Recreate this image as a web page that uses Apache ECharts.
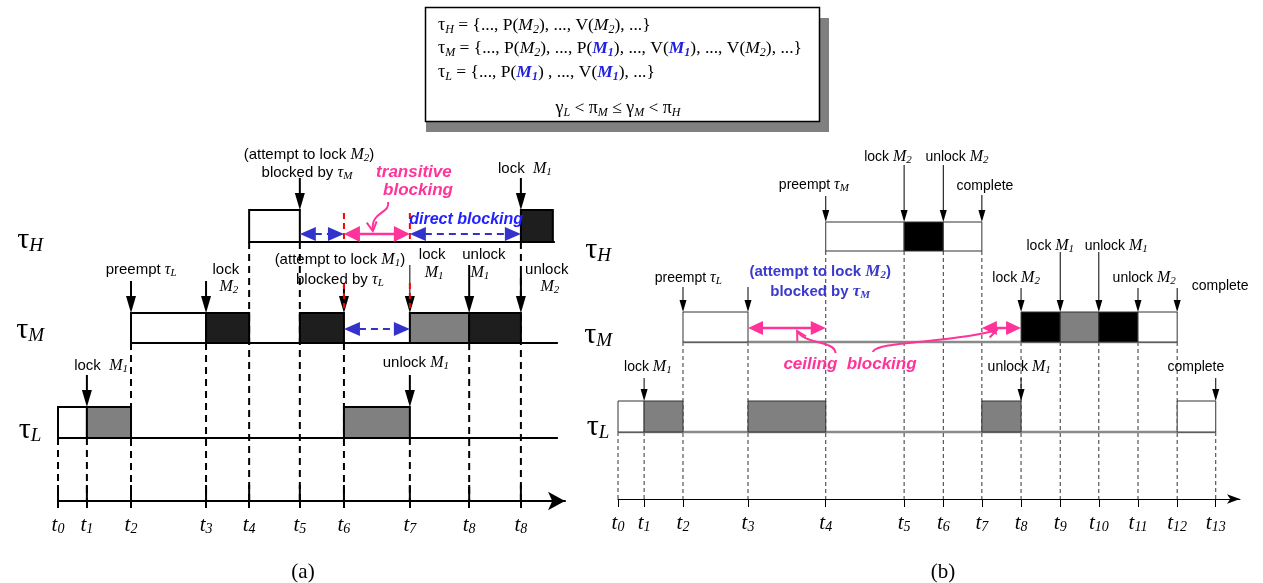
<!DOCTYPE html>
<html><head><meta charset="utf-8">
<script src="https://cdn.jsdelivr.net/npm/echarts@6/dist/echarts.min.js"></script>
<style>html,body{margin:0;padding:0;background:#fff}#main{width:1263px;height:583px}</style>
</head><body><div id="main"></div>
<script>
// ---------------- data (time units along each time axis, levels along the vertical scale) ----------------
const timesA = [0, 5.7, 14.4, 29.2, 37.7, 47.7, 56.4, 69.4, 81.1, 91.3];
const tickLabelsA = ['0', '1', '2', '3', '4', '5', '6', '7', '8', '8'];
const timesB = [0, 4.2, 10.45, 20.9, 33.4, 46.0, 52.3, 58.5, 64.8, 71.1, 77.3, 83.6, 89.9, 96.1];
const tickLabelsB = ['0', '1', '2', '3', '4', '5', '6', '7', '8', '9', '10', '11', '12', '13'];

// rows: [baseline level, top-of-execution-box level]
const rowsA = { H: [25.9, 29.1], M: [15.8, 18.8], L: [6.3, 9.4] };
const rowsB = { H: [24.8, 27.7], M: [15.7, 18.7], L: [6.7, 9.8] };

// execution segments: [row, start tick, end tick, kind] kind 0 = normal, 1 = holds M1, 2 = holds M2
const segmentsA = [['L', 0, 1, 0], ['L', 1, 2, 1], ['L', 6, 7, 1], ['M', 2, 3, 0], ['M', 3, 4, 2], ['M', 5, 6, 2],
  ['M', 7, 8, 1], ['M', 8, 9, 2], ['H', 4, 5, 0], ['H', 9, -1, 2]];
const runEndA = 97.6;
const segmentsB = [['L', 0, 1, 0], ['L', 1, 2, 1], ['L', 3, 4, 1], ['L', 7, 8, 1], ['L', 12, 13, 0],
  ['M', 2, 3, 0], ['M', 8, 9, 2], ['M', 9, 10, 1], ['M', 10, 11, 2], ['M', 11, 12, 0],
  ['H', 4, 5, 0], ['H', 5, 6, 2], ['H', 6, 7, 0]];

// timeline baselines: [row, start tick, end value]
const baselinesA = [['H', 4, 98.0], ['M', 2, 98.6], ['L', 0, 98.6]];
const baselinesB = [['M', 2, 89.9], ['L', 0, 96.1]];

// dashed guide lines: [tick, row it hangs from]
const guidesA = [[0, 'L'], [1, 'L'], [2, 'M'], [3, 'M'], [4, 'H'], [5, 'H'], [6, 'M'], [7, 'L'], [8, 'M'], [9, 'H']];
const guidesB = [[0, 'L'], [1, 'L'], [2, 'M'], [3, 'M'], [4, 'H'], [5, 'H'], [6, 'H'], [7, 'H'], [8, 'M'],
  [9, 'M'], [10, 'M'], [11, 'M'], [12, 'M'], [13, 'L']];

// event arrows: [tick, start level, row]
const eventsA = [[5, 32.3, 'H'], [9, 32.3, 'H'], [2, 22.0, 'M'], [3, 22.0, 'M'], [6, 21.8, 'M'],
  [8, 23.6, 'M'], [9, 22.8, 'M'], [1, 12.6, 'L'], [7, 12.6, 'L']];
const thinEventsA = [[7, 23.6, 'M']];
const eventsB = [[4, 30.3, 'H'], [5, 33.4, 'H'], [6, 33.4, 'H'], [7, 30.4, 'H'], [2, 21.2, 'M'], [3, 21.2, 'M'],
  [8, 21.1, 'M'], [9, 24.7, 'M'], [10, 24.7, 'M'], [11, 21.1, 'M'], [12, 21.1, 'M'],
  [1, 12.1, 'L'], [8, 12.1, 'L'], [13, 12.1, 'L']];

// blocking intervals: [from tick, to tick, level]
const directBlockA = [[5, 6, 26.7], [7, 9, 26.7], [6, 7, 17.2]];
const transitiveBlockA = [[6, 7, 26.7]];
const ceilingBlockB = [[3, 4, 17.1], [7, 8, 17.1]];
// red markers: [tick, from level, to level]
const markersA = [[6, 28.8, 25.9], [7, 28.8, 25.9], [6, 21.8, 19.3], [7, 21.8, 19.3]];

// annotation texts: [time value, level, text]
const notesA = [
  [49.5, 34.6, '{n|(attempt to lock }{m|M}{s|2}{n|)}'],
  [49.1, 32.8, '{n|blocked by }{m|τ}{s|M}'],
  [70.2, 32.9, '{p|transitive}'],
  [71.0, 31.1, '{p|blocking}'],
  [80.5, 28.1, '{b|direct blocking}'],
  [92.1, 33.2, '{n|lock  }{m|M}{s|1}'],
  [55.6, 24.1, '{n|(attempt to lock }{m|M}{s|1}{n|)}'],
  [55.6, 22.1, '{n|blocked by }{m|τ}{s|L}'],
  [73.8, 24.6, '{n|lock}'], [74.2, 22.8, '{m|M}{s|1}'],
  [84.0, 24.6, '{n|unlock}'], [83.2, 22.8, '{m|M}{s|1}'],
  [96.4, 23.1, '{n|unlock}'], [97.0, 21.4, '{m|M}{s|2}'],
  [16.4, 23.1, '{n|preempt }{m|τ}{s|L}'],
  [33.1, 23.1, '{n|lock}'], [33.7, 21.4, '{m|M}{s|2}'],
  [8.5, 13.5, '{n|lock  }{m|M}{s|1}'],
  [70.6, 13.8, '{n|unlock }{m|M}{s|1}'],
  [-5.5, 26.1, '{T|τ}{S|H}'], [-5.5, 17.1, '{T|τ}{S|M}'], [-5.5, 7.1, '{T|τ}{S|L}']
];
const notesB = [
  [31.5, 31.4, '{n|preempt }{m|τ}{s|M}'],
  [43.4, 34.2, '{n|lock }{m|M}{s|2}'],
  [54.5, 34.2, '{n|unlock }{m|M}{s|2}'],
  [59.0, 31.3, '{n|complete}'],
  [11.3, 22.1, '{n|preempt }{m|τ}{s|L}'],
  [32.5, 22.7, '{bb|(attempt to lock }{bm|M}{bs|2}{bb|)}'],
  [32.5, 20.7, '{bb|blocked by }{bm|τ}{bs|M}'],
  [64.0, 22.1, '{n|lock }{m|M}{s|2}'],
  [69.5, 25.3, '{n|lock }{m|M}{s|1}'],
  [80.1, 25.3, '{n|unlock }{m|M}{s|1}'],
  [84.6, 22.1, '{n|unlock }{m|M}{s|2}'],
  [96.8, 21.3, '{n|complete}'],
  [37.3, 13.5, '{p|ceiling  blocking}'],
  [4.8, 13.2, '{n|lock }{m|M}{s|1}'],
  [64.5, 13.2, '{n|unlock }{m|M}{s|1}'],
  [92.9, 13.2, '{n|complete}'],
  [-3.2, 24.9, '{T|τ}{S|H}'], [-3.2, 16.4, '{T|τ}{S|M}'], [-3.2, 7.2, '{T|τ}{S|L}']
];

// leader curves: [x0, y0, c1x, c1y, c2x, c2y, x1, y1]
const leadersA = [[65.1, 29.9, 65.6, 28.7, 61.6, 29.0, 62.1, 27.0]];
const leadersB = [[35.0, 14.6, 34.7, 15.9, 30.1, 15.4, 28.8, 16.8], [41.0, 14.7, 41.2, 15.8, 54.2, 15.6, 60.9, 16.9]];

// ---------------- styling ----------------
const SANS = '"Liberation Sans", Arial, Helvetica, sans-serif';
const SERIF = '"Liberation Serif", "Times New Roman", Times, serif';
const MAGENTA = '#ff3399';
const BLUE_A = '#1f1fff';
const BLUE_ARROW = '#3333cc';
const BLUE_B = '#3a3acc';

function makeRich(sz) {
  return {
    n: { fontFamily: SANS, fontSize: sz.n, lineHeight: sz.lh, fill: '#000' },
    m: { fontFamily: SERIF, fontStyle: 'italic', fontSize: sz.m, lineHeight: sz.lh, fill: '#000' },
    s: { fontFamily: SERIF, fontStyle: 'italic', fontSize: sz.s, lineHeight: sz.slh, verticalAlign: 'bottom', fill: '#000' },
    p: { fontFamily: SANS, fontStyle: 'italic', fontWeight: 'bold', fontSize: 17, lineHeight: sz.lh, fill: MAGENTA },
    b: { fontFamily: SANS, fontStyle: 'italic', fontWeight: 'bold', fontSize: 16, lineHeight: sz.lh, fill: BLUE_A },
    bb: { fontFamily: SANS, fontWeight: 'bold', fontSize: 15, lineHeight: sz.lh, fill: BLUE_B },
    bm: { fontFamily: SERIF, fontStyle: 'italic', fontWeight: 'bold', fontSize: 17, lineHeight: sz.lh, fill: BLUE_B },
    bs: { fontFamily: SERIF, fontStyle: 'italic', fontWeight: 'bold', fontSize: 11, lineHeight: sz.slh, verticalAlign: 'bottom', fill: BLUE_B },
    T: { fontFamily: SERIF, fontSize: 30, lineHeight: 30, fill: '#000' },
    S: { fontFamily: SERIF, fontStyle: 'italic', fontSize: 19, lineHeight: 14, verticalAlign: 'bottom', fill: '#000' }
  };
}
const richA = makeRich({ n: 15, m: 16, s: 11, lh: 18, slh: 9 });
const richB = makeRich({ n: 14, m: 16, s: 11, lh: 18, slh: 9 });

const FILLS_A = ['#ffffff', '#808080', '#1e1e1e'];
const FILLS_B = ['#ffffff', '#808080', '#000000'];

// ---------------- renderers ----------------
function boxRenderer(fills, lw, stroke) {
  return function (p, api) {
    const a = api.coord([api.value(0), api.value(3)]);
    const b = api.coord([api.value(1), api.value(2)]);
    return { type: 'rect', shape: { x: a[0], y: a[1], width: b[0] - a[0], height: b[1] - a[1] },
      style: { fill: fills[api.value(4)], stroke: stroke, lineWidth: lw } };
  };
}
function hLineRenderer(color, lw) {
  return function (p, api) {
    const a = api.coord([api.value(0), api.value(2)]);
    const b = api.coord([api.value(1), api.value(2)]);
    return { type: 'line', shape: { x1: a[0], y1: a[1], x2: b[0], y2: b[1] }, style: { stroke: color, lineWidth: lw } };
  };
}
function vLineRenderer(color, lw, dash) {
  return function (p, api) {
    const a = api.coord([api.value(0), api.value(1)]);
    const b = api.coord([api.value(0), api.value(2)]);
    return { type: 'line', shape: { x1: a[0], y1: a[1], x2: b[0], y2: b[1] }, style: { stroke: color, lineWidth: lw, lineDash: dash } };
  };
}
function downArrowRenderer(color, lw, headLen, headHalf) {
  return function (p, api) {
    const a = api.coord([api.value(0), api.value(1)]);
    const b = api.coord([api.value(0), api.value(2)]);
    return { type: 'group', children: [
      { type: 'line', shape: { x1: a[0], y1: a[1], x2: b[0], y2: b[1] - headLen + 1 }, style: { stroke: color, lineWidth: lw } },
      { type: 'polygon', shape: { points: [[b[0] - headHalf, b[1] - headLen], [b[0] + headHalf, b[1] - headLen], [b[0], b[1]]] }, style: { fill: color } }
    ] };
  };
}
function dblArrowRenderer(color, lw, dash, headLen, headHalf) {
  return function (p, api) {
    const a = api.coord([api.value(0), api.value(2)]);
    const b = api.coord([api.value(1), api.value(2)]);
    const y = a[1];
    return { type: 'group', children: [
      { type: 'line', shape: { x1: a[0] + headLen - 1, y1: y, x2: b[0] - headLen + 1, y2: y }, style: { stroke: color, lineWidth: lw, lineDash: dash } },
      { type: 'polygon', shape: { points: [[a[0], y], [a[0] + headLen, y - headHalf], [a[0] + headLen, y + headHalf]] }, style: { fill: color } },
      { type: 'polygon', shape: { points: [[b[0], y], [b[0] - headLen, y - headHalf], [b[0] - headLen, y + headHalf]] }, style: { fill: color } }
    ] };
  };
}
function curveRenderer(color, lw) {
  return function (p, api) {
    const s = api.coord([api.value(0), api.value(1)]);
    const c1 = api.coord([api.value(2), api.value(3)]);
    const c2 = api.coord([api.value(4), api.value(5)]);
    const e = api.coord([api.value(6), api.value(7)]);
    const dx = e[0] - c2[0], dy = e[1] - c2[1];
    const L = Math.sqrt(dx * dx + dy * dy) || 1;
    const ux = dx / L, uy = dy / L;
    const h = 9, w = 5;
    const bx = e[0] - ux * h, by = e[1] - uy * h;
    return { type: 'group', children: [
      { type: 'bezierCurve', shape: { x1: s[0], y1: s[1], cpx1: c1[0], cpy1: c1[1], cpx2: c2[0], cpy2: c2[1], x2: e[0], y2: e[1] },
        style: { stroke: color, lineWidth: lw, fill: null } },
      { type: 'polyline', shape: { points: [[bx - uy * w, by + ux * w], [e[0], e[1]], [bx + uy * w, by - ux * w]] },
        style: { stroke: color, lineWidth: lw, fill: null } }
    ] };
  };
}
function textRenderer(notes, rich) {
  return function (p, api) {
    const c = api.coord([api.value(0), api.value(1)]);
    return { type: 'text', x: c[0], y: c[1],
      style: { text: notes[api.value(2)][2], rich: rich, align: 'center', verticalAlign: 'middle',
        fontFamily: SANS, fontSize: 14, fill: '#000' } };
  };
}

function series(idx, data, render, z) {
  return { type: 'custom', xAxisIndex: idx, yAxisIndex: idx, data: data, renderItem: render,
    clip: false, silent: true, animation: false, z: z };
}

function buildPanel(idx, times, rows, segments, runEnd, baselines, guides, events, notes, rich, opts) {
  const out = [];
  out.push(series(idx, guides.map(g => [times[g[0]], rows[g[1]][0], 0]), vLineRenderer(opts.guideColor, opts.guideWidth, opts.guideDash), 1));
  out.push(series(idx, baselines.map(b => [times[b[1]], b[2], rows[b[0]][0]]), hLineRenderer(opts.baseColor, opts.baseWidth), 2));
  out.push(series(idx, segments.map(s => [times[s[1]], s[2] < 0 ? runEnd : times[s[2]], rows[s[0]][0], rows[s[0]][1], s[3]]),
    boxRenderer(opts.fills, opts.boxWidth, opts.boxStroke), 3));
  out.push(series(idx, events.map(e => [times[e[0]], e[1], rows[e[2]][1]]), downArrowRenderer('#000', opts.arrowWidth, opts.headLen, opts.headHalf), 4));
  out.push(series(idx, notes.map((n, i) => [n[0], n[1], i]), textRenderer(notes, rich), 6));
  return out;
}

const allSeries = [].concat(
  buildPanel(0, timesA, rowsA, segmentsA, runEndA, baselinesA, guidesA, eventsA, notesA, richA, {
    guideColor: '#000', guideWidth: 2, guideDash: [7, 5], baseColor: '#000', baseWidth: 2,
    fills: FILLS_A, boxWidth: 2, boxStroke: '#000', arrowWidth: 2, headLen: 17, headHalf: 5 }),
  buildPanel(1, timesB, rowsB, segmentsB, 0, baselinesB, guidesB, eventsB, notesB, richB, {
    guideColor: '#333', guideWidth: 1, guideDash: [4, 3], baseColor: '#8a8a8a', baseWidth: 2.5,
    fills: FILLS_B, boxWidth: 1, boxStroke: '#333', arrowWidth: 1, headLen: 12, headHalf: 3.5 }),
  [
    series(0, timesA.map(t => [t, 1.6, 0]), vLineRenderer('#000', 2, null), 1),
    series(0, thinEventsA.map(e => [timesA[e[0]], e[1], rowsA[e[2]][1]]), downArrowRenderer('#000', 1, 17, 5), 4),
    series(0, markersA.map(m => [timesA[m[0]], m[1], m[2]]), vLineRenderer('#ff0000', 2, [6, 4]), 5),
    series(0, directBlockA.map(d => [timesA[d[0]], timesA[d[1]], d[2]]), dblArrowRenderer(BLUE_ARROW, 2, [7, 5], 16, 7), 5),
    series(0, transitiveBlockA.map(d => [timesA[d[0]], timesA[d[1]], d[2]]), dblArrowRenderer(MAGENTA, 2.5, null, 16, 8), 5),
    series(1, ceilingBlockB.map(d => [timesB[d[0]], timesB[d[1]], d[2]]), dblArrowRenderer(MAGENTA, 2.5, null, 15, 7), 5),
    series(0, leadersA, curveRenderer(MAGENTA, 2), 5),
    series(1, leadersB, curveRenderer(MAGENTA, 2), 5)
  ]
);

function tickFormatter(times, labels) {
  return function (v) {
    let best = 0;
    for (let i = 0; i < times.length; i++) if (Math.abs(times[i] - v) < Math.abs(times[best] - v)) best = i;
    return '{t|t}{s|' + labels[best] + '}';
  };
}
const tickRich = {
  t: { fontFamily: SERIF, fontStyle: 'italic', fontSize: 21, lineHeight: 22, color: '#000' },
  s: { fontFamily: SERIF, fontStyle: 'italic', fontSize: 14, lineHeight: 10, verticalAlign: 'bottom', color: '#000' }
};

function xAxisFor(idx, times, labels, lw, arrowSize, tickLen) {
  return {
    type: 'value', gridIndex: idx, min: 0, max: 100, splitLine: { show: false },
    axisLine: { show: true, onZero: false, symbol: ['none', 'arrow'], symbolSize: arrowSize,
      lineStyle: { color: '#000', width: lw } },
    axisTick: { show: true, customValues: times, length: tickLen, lineStyle: { color: '#000', width: lw } },
    axisLabel: { show: true, customValues: times, margin: 13, formatter: tickFormatter(times, labels), rich: tickRich }
  };
}

const boxTextRich = {
  f: { fontFamily: SERIF, fontSize: 17.5, lineHeight: 22, fill: '#000' },
  g: { fontFamily: SERIF, fontSize: 18, lineHeight: 22, fill: '#000' },
  i: { fontFamily: SERIF, fontStyle: 'italic', fontSize: 17.5, lineHeight: 22, fill: '#000' },
  s: { fontFamily: SERIF, fontStyle: 'italic', fontSize: 12, lineHeight: 9, verticalAlign: 'bottom', fill: '#000' },
  b: { fontFamily: SERIF, fontStyle: 'italic', fontWeight: 'bold', fontSize: 17.5, lineHeight: 22, fill: '#2222dd' },
  bs: { fontFamily: SERIF, fontStyle: 'italic', fontWeight: 'bold', fontSize: 12, lineHeight: 9, verticalAlign: 'bottom', fill: '#2222dd' }
};
function boxText(x, y, text, align) {
  return { type: 'text', x: x, y: y, z: 10,
    style: { text: text, rich: boxTextRich, fontFamily: SERIF, fontSize: 17.5, fill: '#000',
      align: align || 'left', verticalAlign: 'middle', textAlign: align || 'left', textVerticalAlign: 'middle' } };
}

const option = {
  animation: false,
  backgroundColor: '#ffffff',
  grid: [
    { left: 58, top: 140, width: 507, height: 361 },
    { left: 618, top: 140, width: 622, height: 359 }
  ],
  xAxis: [
    xAxisFor(0, timesA, tickLabelsA, 2, [14, 17], 7),
    xAxisFor(1, timesB, tickLabelsB, 1, [7, 13], 8)
  ],
  yAxis: [
    { type: 'value', gridIndex: 0, min: 0, max: 36.1, show: false },
    { type: 'value', gridIndex: 1, min: 0, max: 35.9, show: false }
  ],
  series: allSeries,
  graphic: [
    { type: 'rect', z: 8, shape: { x: 426, y: 18, width: 403, height: 114 }, style: { fill: '#808080' } },
    { type: 'rect', z: 9, shape: { x: 425.5, y: 7.5, width: 394, height: 114 }, style: { fill: '#ffffff', stroke: '#000', lineWidth: 1.5 } },
    boxText(438, 25, '{g|τ}{s|H}{f| = {..., P(}{i|M}{s|2}{f|), ..., V(}{i|M}{s|2}{f|), ...}' + '}'),
    boxText(438, 48, '{g|τ}{s|M}{f| = {..., P(}{i|M}{s|2}{f|), ..., P(}{b|M}{bs|1}{f|), ..., V(}{b|M}{bs|1}{f|), ..., V(}{i|M}{s|2}{f|), ...}' + '}'),
    boxText(438, 72, '{g|τ}{s|L}{f| = {..., P(}{b|M}{bs|1}{f|) , ..., V(}{b|M}{bs|1}{f|), ...}' + '}'),
    boxText(618, 108, '{g|γ}{s|L}{f| < }{g|π}{s|M}{f| ≤ }{g|γ}{s|M}{f| < }{g|π}{s|H}', 'center'),
    { type: 'text', x: 303, y: 572, z: 10, style: { text: '(a)', fontFamily: SERIF, fontSize: 21, fill: '#000',
      align: 'center', verticalAlign: 'middle', textAlign: 'center', textVerticalAlign: 'middle' } },
    { type: 'text', x: 943, y: 572, z: 10, style: { text: '(b)', fontFamily: SERIF, fontSize: 21, fill: '#000',
      align: 'center', verticalAlign: 'middle', textAlign: 'center', textVerticalAlign: 'middle' } }
  ]
};

const chart = echarts.init(document.getElementById('main'), null, { renderer: 'canvas' });
chart.setOption(option);
</script>
</body></html>
